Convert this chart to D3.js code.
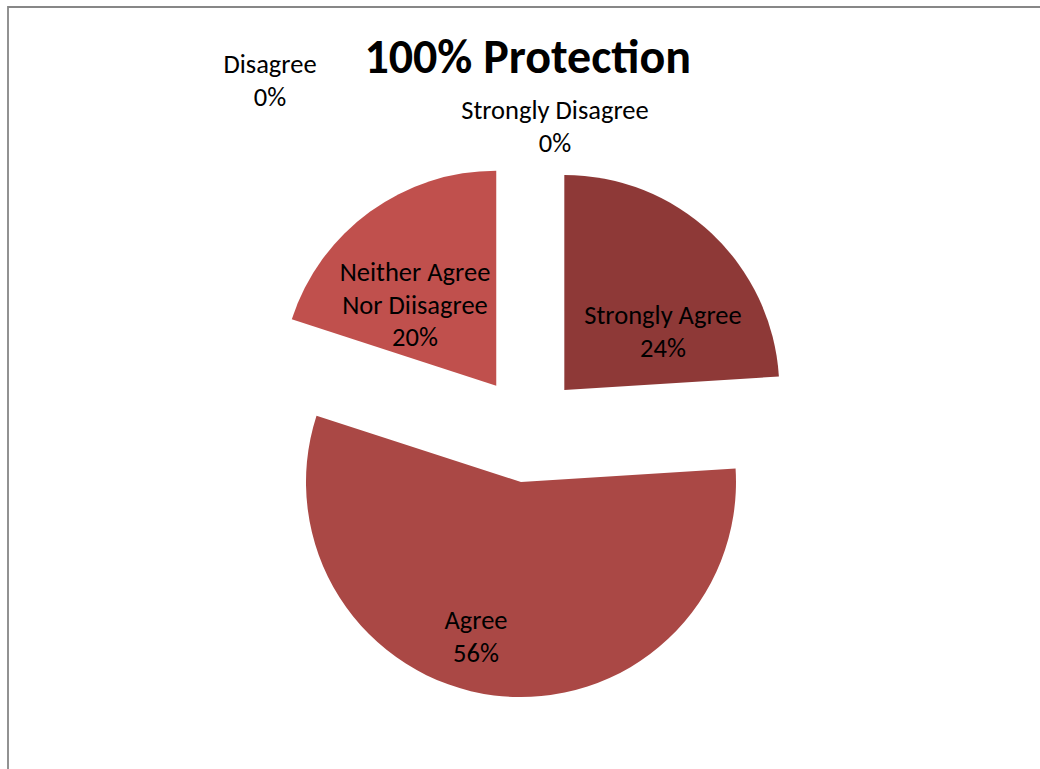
<!DOCTYPE html>
<html>
<head>
<meta charset="utf-8">
<script src="https://cdn.jsdelivr.net/npm/d3@7"></script>
<style>
  html, body { margin: 0; padding: 0; background: #fff; }
  svg { display: block; }
  text { font-family: Carlito, Calibri, Lato, "Open Sans", sans-serif; fill: #000; }
</style>
</head>
<body>
<svg id="chart" width="1040" height="769"></svg>
<script>
// Survey responses for "100% Protection"
const categories = ["Strongly Agree", "Agree", "Neither Agree\nNor Diisagree", "Disagree", "Strongly Disagree"];
const percents = [24, 56, 20, 0, 0];
const sliceColors = ["#8E3937", "#AA4845", "#C0504D", "#D99694", "#E6B9B8"];
const chartTitle = "100% Protection";

// Layout
const W = 1040, H = 769;
const cx = 527.7, cy = 429, radius = 215, explode = 53.5;
// label anchors (centre of first line)
const labelAnchors = [
  [663, 315],
  [476, 620],
  [415, 272],
  [270, 64],
  [555, 110]
];
const lineGap = 32.5;
const labelSize = 26.5;

const svg = d3.select("#chart");

// outer frame (top and left edges visible)
svg.append("path")
  .attr("d", `M8,${H} L8,7 L${W},7`)
  .attr("fill", "none")
  .attr("stroke", "#878787")
  .attr("stroke-width", 1.8);

svg.append("text")
  .attr("x", cx)
  .attr("y", 73)
  .attr("text-anchor", "middle")
  .attr("font-size", 48)
  .attr("font-weight", "bold")
  .text(chartTitle);

const data = categories.map((c, i) => ({ name: c, value: percents[i], color: sliceColors[i] }));

const pie = d3.pie().sort(null).value(d => d.value).startAngle(0).endAngle(2 * Math.PI);
const arcs = pie(data);
const arc = d3.arc().innerRadius(0).outerRadius(radius);

const g = svg.append("g").attr("transform", `translate(${cx},${cy})`);

g.selectAll("path.slice")
  .data(arcs.filter(d => d.value > 0))
  .join("path")
  .attr("class", "slice")
  .attr("fill", d => d.data.color)
  .attr("transform", d => {
    const mid = (d.startAngle + d.endAngle) / 2;
    return `translate(${Math.sin(mid) * explode},${-Math.cos(mid) * explode})`;
  })
  .attr("d", arc);

// data labels: category name + percentage
arcs.forEach((d, i) => {
  const lines = d.data.name.split("\n").concat([d3.format(".0f")(d.value) + "%"]);
  const [lx, ly] = labelAnchors[i];
  const t = svg.append("text")
    .attr("text-anchor", "middle")
    .attr("font-size", labelSize);
  lines.forEach((s, k) => {
    t.append("tspan")
      .attr("x", lx)
      .attr("y", ly + k * lineGap + 9)
      .text(s);
  });
});
</script>
</body>
</html>
